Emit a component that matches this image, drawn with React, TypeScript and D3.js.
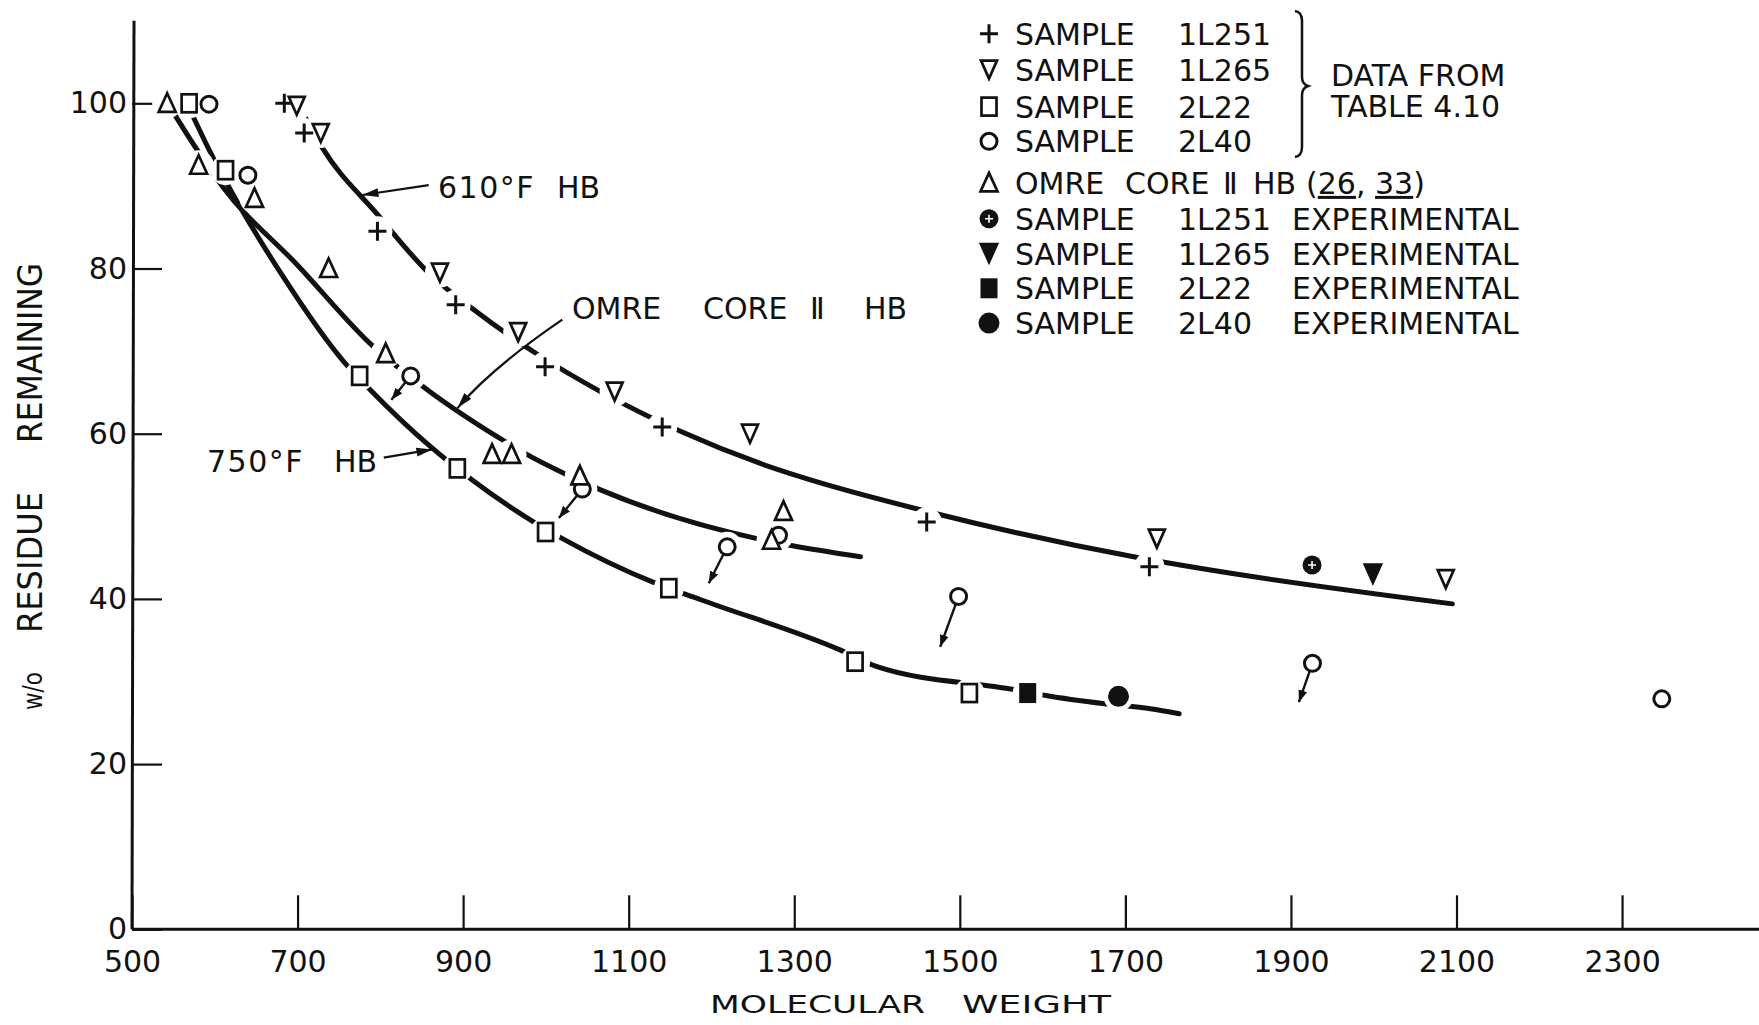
import React, { useEffect, useRef } from "react";
import * as d3 from "d3";

const width = 1759;
const height = 1025;
const font = "'DejaVu Sans', Verdana, sans-serif";
const ink = "#111";

// axis ticks
const xTicks = [500, 700, 900, 1100, 1300, 1500, 1700, 1900, 2100, 2300];
const yTicks = [0, 20, 40, 60, 80, 100];

// open symbols (data from table 4.10): [molecular weight, w/o residue remaining]
const sample1L251 = [[684, 100], [708, 96.4], [796.5, 84.5], [891, 75.6], [999, 68.1], [1140.5, 60.8], [1460, 49.3], [1729, 43.9]];
const sample1L265 = [[699, 99.7], [728, 96.4], [872, 79.5], [966.5, 72.3], [1083, 65.1], [1246.5, 60], [1738, 47.3], [2087, 42.4]];
const sample2L22 = [[569, 100], [613, 91.9], [775, 67], [893, 55.8], [999.6, 48.1], [1148.5, 41.3], [1373.5, 32.4], [1511.6, 28.6]];
const sample2L40 = [[593, 99.9], [640, 91.3], [836.7, 67], [1044, 53.3], [1219, 46.3], [1281, 47.7], [1498.5, 40.3], [1926, 32.2], [2348, 27.9]];
const omreCore = [[542.5, 100], [580.5, 92.5], [648, 88.5], [737.5, 80], [806.5, 69.7], [935, 57.5], [958.5, 57.5], [1041, 54.9], [1272.5, 47.1], [1287, 50.6]];

// experimental (filled symbols)
const exp1L251 = [[1925.5, 44.1]];
const exp1L265 = [[1999, 43.0]];
const exp2L22 = [[1582, 28.6]];
const exp2L40 = [[1691.7, 28.2]];

// 2L40 points with arrows: [from, to]
const arrows2L40 = [
  [[836.7, 67], [813.4, 64.1]],
  [[1044, 53.3], [1015.7, 49.8]],
  [[1219, 46.3], [1196.7, 41.9]],
  [[1498.5, 40.3], [1476.3, 34.2]],
  [[1926, 32.2], [1909.6, 27.5]],
];

// hand fitted curves
const curve610 = [[704, 99.3], [730, 94.6], [796, 86.6], [859, 79.4], [913, 75], [991.5, 69.5], [1066, 65.1], [1164.6, 60.2], [1259, 56.4], [1307, 54.8], [1468, 50.4], [1710, 45.1], [1790, 43.7], [2095, 39.4]];
const curveOmre = [[548, 99.2], [579, 94.3], [609.5, 89.9], [700, 80.4], [792, 70.5], [857, 65.3], [945, 59.4], [971.5, 57.8], [1026, 55], [1066, 53.2], [1255, 47.3], [1295, 46.5], [1380, 45.1]];
const curve750 = [[571, 99], [595, 94], [613, 90.6], [680, 79.4], [756, 68.7], [788, 65.3], [861, 58.4], [911, 54.4], [985.5, 49.3], [1020, 47.3], [1130, 42.0], [1187, 39.9], [1356, 33.8], [1400, 31.8], [1567, 29.0], [1604, 28.3], [1675, 27.3], [1730, 26.7], [1765, 26.1]];

// label arrows (data units)
const arrow610 = [[858.4, 90.1], [778.4, 88.9]];
const arrow750 = [[804.1, 57.1], [862.9, 58.1]];
const arrowOmre = [[1019.8, 73.8], [934.9, 68.0], [893.1, 63.1]];

const legendItems = [
  { kind: "plus", label: "SAMPLE 1L251" },
  { kind: "triDown", label: "SAMPLE 1L265" },
  { kind: "square", label: "SAMPLE 2L22" },
  { kind: "circle", label: "SAMPLE 2L40" },
  { kind: "triUp", label: "OMRE CORE Ⅱ HB (26,33)" },
  { kind: "circlePlus", label: "SAMPLE 1L251 EXPERIMENTAL" },
  { kind: "triDownFilled", label: "SAMPLE 1L265 EXPERIMENTAL" },
  { kind: "squareFilled", label: "SAMPLE 2L22 EXPERIMENTAL" },
  { kind: "circleFilled", label: "SAMPLE 2L40 EXPERIMENTAL" },
];

const series = [
  { pts: sample1L251, kind: "plus" },
  { pts: sample1L265, kind: "triDown" },
  { pts: sample2L22, kind: "square" },
  { pts: sample2L40, kind: "circle" },
  { pts: omreCore, kind: "triUp" },
  { pts: exp1L251, kind: "circlePlus" },
  { pts: exp1L265, kind: "triDownFilled" },
  { pts: exp2L22, kind: "squareFilled" },
  { pts: exp2L40, kind: "circleFilled" },
];

// layout
const x = d3.scaleLinear().domain([500, 2100]).range([132, 1456.5]);
const y = d3.scaleLinear().domain([0, 100]).range([929.3, 103.3]);
const legendRows = [33.7, 69.6, 106.6, 141.3, 182.9, 218.8, 253.5, 288.3, 323.1];
const sampleCols = [1015, 1178, 1292];
const omreCols = [1015, 1125, 1223, 1253, 1306];

const line = d3.line<number[]>()
  .x(d => x(d[0]))
  .y(d => y(d[1]))
  .curve(d3.curveMonotoneX);

function Marker({ kind, cx, cy }: { kind: string; cx: number; cy: number }) {
  const t = `translate(${cx},${cy})`;
  const sw = 2.7;
  switch (kind) {
    case "plus":
      return <path transform={t} d="M-9,0H9M0,-9.5V9.5" stroke={ink} strokeWidth={3} fill="none" />;
    case "triUp":
      return <path transform={t} d="M0,-10L8.5,8.5L-8.5,8.5Z" stroke={ink} strokeWidth={sw} fill="#fff" />;
    case "triDown":
      return <path transform={t} d="M-8,-9L8,-9L0,9Z" stroke={ink} strokeWidth={sw} fill="#fff" />;
    case "square":
      return <rect transform={t} x={-7.5} y={-9} width={15} height={18} stroke={ink} strokeWidth={sw} fill="#fff" />;
    case "circle":
      return <circle transform={t} r={8} stroke={ink} strokeWidth={3} fill="#fff" />;
    case "circlePlus":
      return (
        <g transform={t}>
          <circle r={9.5} fill={ink} />
          <path d="M-4,0H4M0,-4V4" stroke="#fff" strokeWidth={1.6} />
        </g>
      );
    case "triDownFilled":
      return <path transform={t} d="M-9,-10L9,-10L0,10Z" fill={ink} stroke={ink} strokeWidth={1.5} />;
    case "squareFilled":
      return <rect transform={t} x={-8.5} y={-10} width={17} height={20} fill={ink} />;
    case "circleFilled":
      return <circle transform={t} r={10.5} fill={ink} />;
    default:
      return null;
  }
}

function LegendLabel({ label, row }: { label: string; row: number }) {
  const words = label.split(" ");
  const cols = words[0] === "OMRE" ? omreCols : sampleCols;
  const by = legendRows[row] + 11;
  return (
    <g>
      {words.map((w, i) => (
        <text key={i} x={cols[i]} y={by} fontSize={30}>
          {w === "(26,33)" ? (
            <>
              <tspan>(</tspan>
              <tspan style={{ textDecoration: "underline" }}>26</tspan>
              <tspan>, </tspan>
              <tspan style={{ textDecoration: "underline" }}>33</tspan>
              <tspan>)</tspan>
            </>
          ) : w}
        </text>
      ))}
    </g>
  );
}

export default function App() {
  const xAxisRef = useRef<SVGGElement>(null);
  const yAxisRef = useRef<SVGGElement>(null);

  useEffect(() => {
    const gx = d3.select(xAxisRef.current);
    gx.selectAll("*").remove();
    gx.call(
      d3.axisBottom(x).tickValues(xTicks).tickSizeInner(-34).tickSizeOuter(0).tickPadding(21).tickFormat(d3.format("d"))
    );
    gx.select(".domain").remove();
    gx.selectAll(".tick line").attr("stroke", ink).attr("stroke-width", 2.2);
    gx.selectAll(".tick text").attr("fill", ink).attr("font-size", 30).attr("font-family", font);

    const gy = d3.select(yAxisRef.current);
    gy.selectAll("*").remove();
    gy.call(d3.axisLeft(y).tickValues(yTicks).tickSizeInner(-30).tickSizeOuter(0).tickPadding(5));
    gy.select(".domain").remove();
    gy.selectAll(".tick line").attr("stroke", ink).attr("stroke-width", 2.2);
    gy.selectAll(".tick text").attr("fill", ink).attr("font-size", 30).attr("font-family", font);
  }, []);

  const allPts = series.flatMap(s => s.pts);

  const circleArrows = arrows2L40.map(([from, to], i) => {
    const cx = x(from[0]), cy = y(from[1]);
    const tx = x(to[0]), ty = y(to[1]);
    const len = Math.hypot(tx - cx, ty - cy);
    const sx = cx + ((tx - cx) / len) * 8;
    const sy = cy + ((ty - cy) / len) * 8;
    return <line key={i} x1={sx} y1={sy} x2={tx} y2={ty} stroke={ink} strokeWidth={2.4} markerEnd="url(#ahSmall)" />;
  });

  const omrePath = `M${x(arrowOmre[0][0])},${y(arrowOmre[0][1])}Q${x(arrowOmre[1][0])},${y(arrowOmre[1][1])} ${x(arrowOmre[2][0])},${y(arrowOmre[2][1])}`;

  return (
    <svg
      width={width}
      height={height}
      style={{ position: "absolute", left: 0, top: 0, background: "#fff" }}
      fontFamily={font}
      fill={ink}
    >
      <defs>
        <marker id="ahBig" markerUnits="userSpaceOnUse" markerWidth={18} markerHeight={10} refX={16} refY={5} orient="auto">
          <path d="M0,0.5L16,5L0,9.5Z" fill={ink} />
        </marker>
        <marker id="ahSmall" markerUnits="userSpaceOnUse" markerWidth={14} markerHeight={10} refX={12} refY={5} orient="auto">
          <path d="M0,0.5L12,5L0,9.5Z" fill={ink} />
        </marker>
      </defs>
      <rect width={width} height={height} fill="#fff" />

      {/* axes */}
      <g ref={xAxisRef} transform={`translate(0,${y(0)})`} />
      <g ref={yAxisRef} transform={`translate(${x(500)},0)`} />
      <line x1={x(500)} x2={width} y1={y(0)} y2={y(0)} stroke={ink} strokeWidth={3} />
      <line x1={x(500)} x2={x(500) + 2} y1={y(0)} y2={y(110)} stroke={ink} strokeWidth={3} />

      {/* axis titles */}
      <text x={710} y={1013} fontSize={25} textLength={215} lengthAdjust="spacingAndGlyphs">MOLECULAR</text>
      <text x={962} y={1013} fontSize={25} textLength={149} lengthAdjust="spacingAndGlyphs">WEIGHT</text>
      <text transform="translate(42,710) rotate(-90)" fontSize={26} textLength={38} lengthAdjust="spacingAndGlyphs">w/o</text>
      <text transform="translate(42,633) rotate(-90)" fontSize={33} textLength={141} lengthAdjust="spacingAndGlyphs">RESIDUE</text>
      <text transform="translate(42,443) rotate(-90)" fontSize={33} textLength={180} lengthAdjust="spacingAndGlyphs">REMAINING</text>

      {/* fitted curves */}
      {[curve610, curveOmre, curve750].map((c, i) => (
        <path key={i} d={line(c) || ""} fill="none" stroke={ink} strokeWidth={5} strokeLinecap="round" />
      ))}

      {/* gaps in the curves around symbols */}
      {allPts.map((p, i) => (
        <circle key={i} cx={x(p[0])} cy={y(p[1])} r={15} fill="#fff" />
      ))}

      {/* symbols */}
      {series.map((s, si) =>
        s.pts.map((p, i) => <Marker key={`${si}-${i}`} kind={s.kind} cx={x(p[0])} cy={y(p[1])} />)
      )}

      {circleArrows}

      {/* curve labels */}
      <line x1={x(arrow610[0][0])} y1={y(arrow610[0][1])} x2={x(arrow610[1][0])} y2={y(arrow610[1][1])} stroke={ink} strokeWidth={2.2} markerEnd="url(#ahBig)" />
      <text x={438} y={198} fontSize={30} letterSpacing={1.5}>610°F</text>
      <text x={557} y={198} fontSize={30}>HB</text>

      <line x1={x(arrow750[0][0])} y1={y(arrow750[0][1])} x2={x(arrow750[1][0])} y2={y(arrow750[1][1])} stroke={ink} strokeWidth={2.2} markerEnd="url(#ahBig)" />
      <text x={207} y={472} fontSize={30} letterSpacing={1.5}>750°F</text>
      <text x={334} y={472} fontSize={30}>HB</text>

      <path d={omrePath} fill="none" stroke={ink} strokeWidth={2.2} markerEnd="url(#ahBig)" />
      <text x={572} y={318.5} fontSize={30}>OMRE</text>
      <text x={703} y={318.5} fontSize={30}>CORE</text>
      <text x={810} y={318.5} fontSize={30}>Ⅱ</text>
      <text x={864} y={318.5} fontSize={30}>HB</text>

      {/* legend */}
      {legendItems.map((item, i) => (
        <g key={i}>
          <Marker kind={item.kind} cx={989} cy={legendRows[i]} />
          <LegendLabel label={item.label} row={i} />
        </g>
      ))}
      <path
        d="M1295,11Q1302,12 1302,21L1302,77Q1302,84 1308,86Q1302,88 1302,95L1302,147Q1302,156 1295,157"
        fill="none"
        stroke={ink}
        strokeWidth={2.5}
      />
      <text x={1331} y={85.5} fontSize={30}>DATA FROM</text>
      <text x={1331} y={116.5} fontSize={30}>TABLE 4.10</text>
    </svg>
  );
}
